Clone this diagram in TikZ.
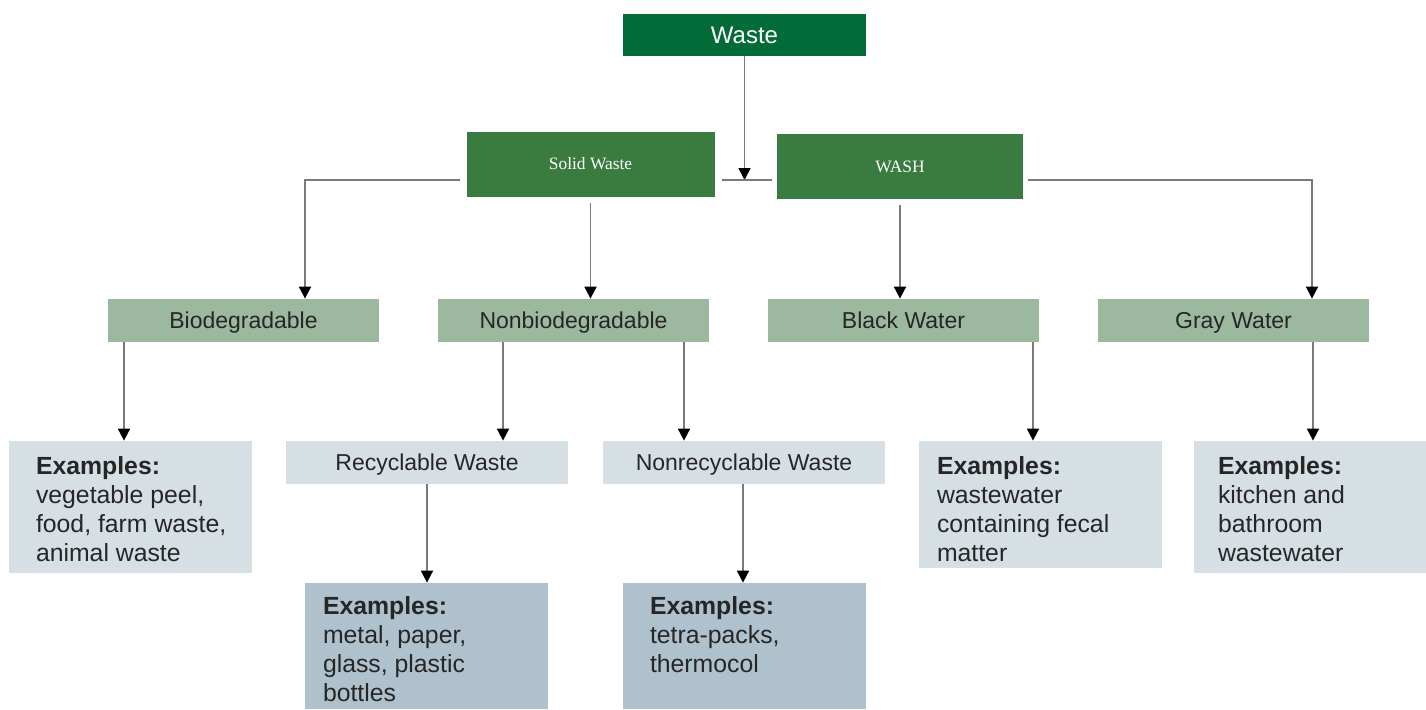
\documentclass[tikz,border=0pt]{standalone}
\usepackage{fontspec}
\setmainfont{Liberation Sans}
\newfontfamily\titleserif{Liberation Serif}
\usetikzlibrary{arrows.meta}
\definecolor{wastegreen}{HTML}{036B38}
\definecolor{branchgreen}{HTML}{3A7B3F}
\definecolor{catgreen}{HTML}{9CB89E}
\definecolor{examplegray}{HTML}{D6DFE4}
\definecolor{examplesteel}{HTML}{AFC1CC}
\definecolor{linegray}{HTML}{7A7A7A}
\tikzstyle{topbox} = [fill=wastegreen, text=white, inner sep=0pt,
    minimum width=121.5pt, minimum height=21pt, font=\fontsize{12}{14}\selectfont]
\tikzstyle{branchbox} = [fill=branchgreen, text=white, inner sep=0pt,
    minimum width=124pt, minimum height=32.5pt, font=\titleserif\fontsize{8.7}{10}\selectfont]
\tikzstyle{catbox} = [fill=catgreen, text=black!85, inner sep=0pt, text height=8.3pt, text depth=0pt,
    minimum width=135.5pt, minimum height=21.5pt, font=\fontsize{11.5}{14}\selectfont]
\tikzstyle{typebox} = [fill=examplegray, text=black!85, inner sep=0pt, text height=8.3pt, text depth=0pt,
    minimum width=141pt, minimum height=21.5pt, font=\fontsize{11.5}{14}\selectfont]
\tikzstyle{examplebox} = [fill=examplegray, inner sep=0pt, minimum width=121.5pt]
\tikzstyle{exampletext} = [anchor=north west, align=left, inner sep=0pt,
    text=black!85, font=\fontsize{12.4}{14.5}\selectfont]
\tikzstyle{conn} = [draw=linegray, line width=0.9pt]
\tikzstyle{arrowconn} = [conn, -{Triangle[length=6pt,width=6pt,color=black]}]

\begin{document}
\begin{tikzpicture}[x=0.5pt, y=-0.5pt]
\useasboundingbox (0,0) rectangle (1426,709);

% top levels
\node[topbox] (waste) at (744.5,35) {Waste};
\node[branchbox] (solid) at (590.5,164) {Solid Waste};
\node[branchbox, minimum width=123pt] (wash) at (900,166.5) {WASH};
\coordinate (hub) at (744.5,180);

% categories
\node[catbox] (bio) at (243.5,320.5) {Biodegradable};
\node[catbox] (nonbio) at (573.5,320.5) {Nonbiodegradable};
\node[catbox] (black) at (903.5,320.5) {Black Water};
\node[catbox] (gray) at (1233.5,320.5) {Gray Water};

% types
\node[typebox] (recyc) at (427,462.5) {Recyclable Waste};
\node[typebox] (nonrec) at (744,462.5) {Nonrecyclable Waste};

% example boxes
\node[examplebox, minimum height=66pt] (exbio) at (130.5,507) {};
\node[examplebox, minimum height=63.5pt] (exblack) at (1040.5,504.5) {};
\node[examplebox, minimum width=116pt, minimum height=66pt] (exgray) at (1310,507) {};
\node[examplebox, fill=examplesteel, minimum height=63pt] (exrec) at (426.5,646) {};
\node[examplebox, fill=examplesteel, minimum height=63pt] (exnon) at (744.5,646) {};

\node[exampletext] (exbiotext) at ([xshift=13.5pt,yshift=-8pt]exbio.north west)
    {\textbf{Examples:}\\vegetable peel,\\food, farm waste,\\animal waste};
\node[exampletext] (exblacktext) at ([xshift=9pt,yshift=-8pt]exblack.north west)
    {\textbf{Examples:}\\wastewater\\containing fecal\\matter};
\node[exampletext] (exgraytext) at ([xshift=12pt,yshift=-8pt]exgray.north west)
    {\textbf{Examples:}\\kitchen and\\bathroom\\wastewater};
\node[exampletext] (exrectext) at ([xshift=9pt,yshift=-7pt]exrec.north west)
    {\textbf{Examples:}\\metal, paper,\\glass, plastic\\bottles};
\node[exampletext] (exnontext) at ([xshift=13.5pt,yshift=-7pt]exnon.north west)
    {\textbf{Examples:}\\tetra-packs,\\thermocol};

% connectors
\draw[arrowconn] (waste) -- (hub);
\draw[conn] ([xshift=3.5pt]solid.east |- hub) -- ([xshift=-2.5pt]wash.west |- hub);
\draw[arrowconn] ([xshift=-3pt]solid.west |- hub) -| ([xshift=30.75pt]bio.north);
\draw[arrowconn] ([yshift=-3pt]solid.south) -- (solid.south |- nonbio.north);
\draw[arrowconn] ([yshift=-3pt]wash.south) -- (wash.south |- black.north);
\draw[arrowconn] ([xshift=2.5pt]wash.east |- hub) -| ([xshift=39.25pt]gray.north);

\draw[arrowconn] ([xshift=-59.75pt]bio.south) -- ([xshift=-59.75pt]bio.south |- exbio.north);
\draw[arrowconn] ([xshift=-35.25pt]nonbio.south) -- ([xshift=-35.25pt]nonbio.south |- recyc.north);
\draw[arrowconn] ([xshift=55.25pt]nonbio.south) -- ([xshift=55.25pt]nonbio.south |- nonrec.north);
\draw[arrowconn] ([xshift=64.75pt]black.south) -- ([xshift=64.75pt]black.south |- exblack.north);
\draw[arrowconn] ([xshift=39.75pt]gray.south) -- ([xshift=39.75pt]gray.south |- exgray.north);
\draw[arrowconn] (recyc.south) -- (recyc.south |- exrec.north);
\draw[arrowconn] ([xshift=-0.5pt]nonrec.south) -- ([xshift=-0.5pt]nonrec.south |- exnon.north);
\end{tikzpicture}
\end{document}
